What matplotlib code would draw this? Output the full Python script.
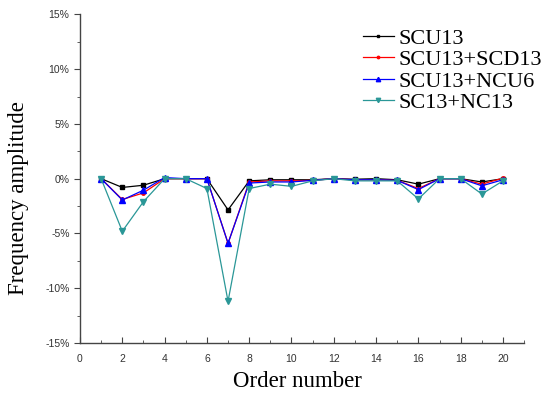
import matplotlib
matplotlib.use("Agg")
import matplotlib.pyplot as plt
from matplotlib.ticker import MultipleLocator, FuncFormatter

orders = list(range(1, 21))
scu13 = [0, -0.8, -0.6, 0, 0, 0, -2.85, -0.2, -0.1, -0.1, -0.1, 0, -0.05, 0, -0.1, -0.5, 0, 0, -0.3, 0]
scu13_scd13 = [0, -1.9, -1.3, 0, 0, 0, -5.9, -0.3, -0.2, -0.2, -0.15, 0, -0.1, -0.1, -0.15, -0.9, 0, 0, -0.5, 0.05]
scu13_ncu6 = [0, -1.95, -1.05, 0.1, 0, 0, -5.9, -0.4, -0.3, -0.3, -0.15, 0, -0.1, -0.1, -0.15, -1.0, 0, 0, -0.65, -0.1]
sc13_nc13 = [0, -4.8, -2.1, 0, 0, -0.9, -11.2, -0.9, -0.5, -0.7, -0.2, 0, -0.2, -0.2, -0.2, -1.85, 0, 0, -1.4, -0.2]

labels = ["SCU13", "SCU13+SCD13", "SCU13+NCU6", "SC13+NC13"]
series = [scu13, scu13_scd13, scu13_ncu6, sc13_nc13]
colors = ["black", "red", "blue", "#2a9797"]
markers = ["s", "o", "^", "v"]
msizes = [3, 2.5, 4.5, 4.5]

fig = plt.figure(figsize=(5.49, 3.94), dpi=100)
ax = fig.add_axes([0.1457, 0.1295, 0.809, 0.834])

for ys, lab, c, m, ms in zip(series, labels, colors, markers, msizes):
    ax.plot(orders, ys, color=c, marker=m, markersize=ms, linewidth=0.9, label=lab)

ax.set_xlim(0, 21)
ax.set_ylim(-15, 15)
ax.xaxis.set_major_locator(MultipleLocator(2))
ax.xaxis.set_minor_locator(MultipleLocator(1))
ax.yaxis.set_major_locator(MultipleLocator(5))
ax.yaxis.set_minor_locator(MultipleLocator(2.5))
ax.yaxis.set_major_formatter(FuncFormatter(lambda v, p: f"{int(round(v))}%"))

for s in ["top", "right"]:
    ax.spines[s].set_visible(False)
for s in ["left", "bottom"]:
    ax.spines[s].set_color("#444444")
    ax.spines[s].set_linewidth(1)

ax.tick_params(axis="x", which="major", direction="in", length=4, labelsize=7.5, colors="#444444", pad=8)
ax.tick_params(axis="x", which="minor", direction="in", length=2.5, colors="#444444")
ax.tick_params(axis="y", which="major", direction="out", length=4, labelsize=7.5, colors="#444444")
ax.tick_params(axis="y", which="minor", direction="out", length=2.5, colors="#444444")
for t in ax.get_xticklabels() + ax.get_yticklabels():
    t.set_fontfamily("Liberation Sans")
    t.set_color("#333333")

ax.set_xlabel("Order number", fontfamily="Liberation Serif", fontsize=16.5)
ax.set_ylabel("Frequency amplitude", fontfamily="Liberation Serif", fontsize=16.5)
ax.xaxis.set_label_coords(0.49, -0.085)
ax.yaxis.set_label_coords(-0.115, 0.44)

leg = ax.legend(loc="upper left", bbox_to_anchor=(0.617, 0.985), frameon=False,
                prop={"family": "Liberation Serif", "size": 16}, handlelength=1.4,
                handletextpad=0.18, labelspacing=0.04, borderaxespad=0, markerscale=0.7)

fig.savefig("out.png", dpi=100)
